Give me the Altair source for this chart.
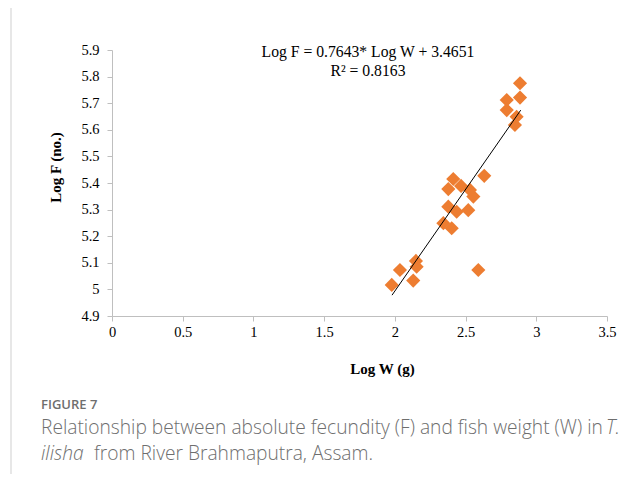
import altair as alt
import pandas as pd

# Data
log_w = [1.978, 2.036, 2.130, 2.149, 2.154, 2.343, 2.402, 2.378, 2.437, 2.519,
         2.555, 2.378, 2.413, 2.468, 2.531, 2.632, 2.590, 2.791, 2.791, 2.861,
         2.849, 2.885, 2.885]
log_f = [5.017, 5.073, 5.033, 5.107, 5.085, 5.249, 5.230, 5.311, 5.292, 5.298,
         5.349, 5.377, 5.415, 5.389, 5.374, 5.427, 5.073, 5.712, 5.674, 5.649,
         5.618, 5.775, 5.721]

slope = 0.7643
intercept = 3.4651
line_x = [1.98, 2.89]

x_ticks = [0, 0.5, 1, 1.5, 2, 2.5, 3, 3.5]
y_ticks = [4.9, 5.0, 5.1, 5.2, 5.3, 5.4, 5.5, 5.6, 5.7, 5.8, 5.9]

equation_text = "Log F = 0.7643* Log W + 3.4651"
r2_text = "R² = 0.8163"
x_title = "Log W (g)"
y_title = "Log F (no.)"
fig_label = "FIGURE 7"
caption_1 = "Relationship between absolute fecundity (F) and fish weight (W) in"
caption_1_it = "T."
caption_2_it = "ilisha"
caption_2 = "from River Brahmaputra, Assam."

W, H = 495, 266
SERIF = "Liberation Serif"
SANS = "Open Sans"
CAP_COLOR = "#6e6e6e"

pts = pd.DataFrame({"logW": log_w, "logF": log_f})
line_df = pd.DataFrame({"logW": line_x, "logF": [slope * v + intercept for v in line_x]})

xs = alt.Scale(domain=[0, 3.5], nice=False, zero=False)
ys = alt.Scale(domain=[4.9, 5.9], nice=False, zero=False)

x_axis = alt.Axis(values=x_ticks, format="~g", grid=False, title=x_title,
                  labelFont=SERIF, labelFontSize=14.5, labelColor="black",
                  labelOverlap=False, labelFlush=False,
                  titleFont=SERIF, titleFontSize=15, titleFontWeight="bold",
                  titleColor="black", titleX=270, titleY=52, titleBaseline="middle",
                  domainColor="#bfbfbf", tickColor="#bfbfbf", tickSize=5, labelPadding=4)
y_axis = alt.Axis(values=y_ticks, format="~g", grid=False, title=y_title,
                  labelFont=SERIF, labelFontSize=14.5, labelColor="black",
                  labelOverlap=False, labelFlush=False,
                  titleFont=SERIF, titleFontSize=15, titleFontWeight="bold",
                  titleColor="black", titleX=-57, titleY=117, titleBaseline="middle",
                  titleAngle=270,
                  domainColor="#bfbfbf", tickColor="#bfbfbf", tickSize=5, labelPadding=8)

points = alt.Chart(pts).mark_point(shape="diamond", filled=True, color="#ED7D31",
                                   size=200, opacity=1).encode(
    x=alt.X("logW:Q", scale=xs, axis=x_axis),
    y=alt.Y("logF:Q", scale=ys, axis=y_axis),
)

trend = alt.Chart(line_df).mark_line(color="black", strokeWidth=1).encode(
    x=alt.X("logW:Q", scale=xs, axis=x_axis),
    y=alt.Y("logF:Q", scale=ys, axis=y_axis),
)


def txt(s, x, y, font=SERIF, size=15, color="black", align="center", style="normal", weight="normal"):
    return alt.Chart(pd.DataFrame({"t": [s]})).mark_text(
        font=font, fontSize=size, color=color, align=align, baseline="middle",
        fontStyle=style, fontWeight=weight,
    ).encode(x=alt.value(x), y=alt.value(y), text="t:N")


border = alt.Chart(pd.DataFrame({"a": [0]})).mark_rule(color="#cfcfcf", strokeWidth=1).encode(
    x=alt.value(-101), y=alt.value(-60), y2=alt.value(440)
)

CAP = 19.2
layers = [
    border,
    points,
    trend,
    txt(equation_text, 256, 2, size=15.7),
    txt(r2_text, 256, 21, size=15.7),
    txt(fig_label, -71, 355, font=SANS, size=13, color=CAP_COLOR, align="left", weight=600),
    txt(caption_1, -71, 378, font=SANS, size=CAP, color=CAP_COLOR, align="left", weight=300),
    txt(caption_1_it, 494, 378, font=SANS, size=CAP, color=CAP_COLOR, align="left", style="italic", weight=300),
    txt(caption_2_it, -71, 404, font=SANS, size=CAP, color=CAP_COLOR, align="left", style="italic", weight=300),
    txt(caption_2, -18, 404, font=SANS, size=CAP, color=CAP_COLOR, align="left", weight=300),
]

chart = alt.layer(*layers).properties(
    width=W, height=H,
    autosize=alt.AutoSizeParams(type="none"),
    padding={"left": 104, "top": 42, "right": 28, "bottom": 158},
).configure_view(strokeWidth=0)

chart.save("out.html", embed_options={"renderer": "svg", "actions": False})
